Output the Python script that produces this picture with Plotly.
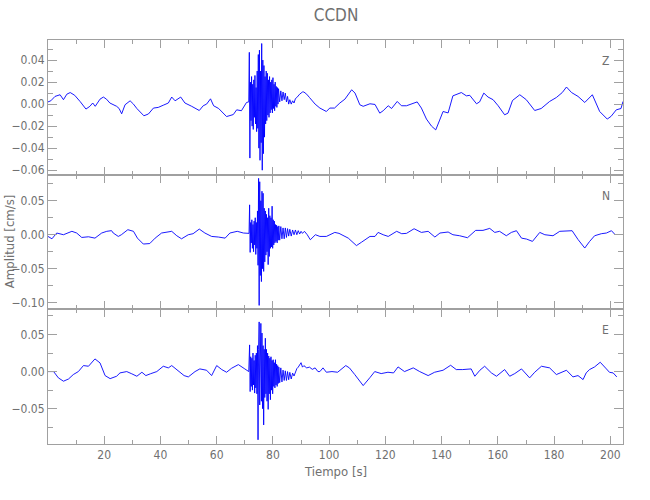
import plotly.graph_objects as go
from plotly.subplots import make_subplots

# ---------------- data (time [s], amplitude [cm/s]) ----------------
z_pre = [(0.0, 0.002), (1.0, 0.003), (2.5, 0.007), (4.3, 0.0085), (5.5, 0.004), (6.7, 0.009),
         (7.9, 0.0105), (9.5, 0.008), (11.4, 0.0024), (13.5, -0.0045), (14.9, -0.002), (15.9, 0.001),
         (16.8, -0.002), (18.5, 0.0045), (19.7, 0.0064), (20.8, 0.0045), (22.0, 0.001), (24.4, -0.002),
         (25.3, -0.004), (26.2, -0.0088), (27.4, -0.0006), (29.2, 0.003), (30.4, 0.0), (31.6, -0.004),
         (34.1, -0.0106), (35.7, -0.009), (37.5, -0.0036), (39.2, -0.003), (41.0, -0.001), (42.8, 0.001),
         (44.0, 0.0064), (45.2, 0.003), (47.2, 0.0064), (48.7, 0.001), (51.1, -0.002), (53.8, -0.0058),
         (55.2, -0.0015), (56.4, 0.0), (57.8, 0.0048), (58.9, -0.0015), (60.7, -0.004), (63.5, -0.0113),
         (65.9, -0.0095), (67.1, -0.0052), (68.8, -0.006), (70.6, 0.0015), (71.4, 0.002)]
z_burst = [(71.6, 0.047), (71.8, -0.049), (72.0, 0.020), (72.2, -0.015), (72.4, 0.025), (72.6, -0.020),
           (72.8, 0.018), (73.0, -0.023), (73.2, 0.022), (73.4, -0.012), (73.6, 0.026), (73.8, -0.018),
           (74.0, 0.015), (74.2, -0.025), (74.4, 0.030), (74.6, -0.022), (74.8, 0.045), (75.0, -0.040),
           (75.2, 0.049), (75.4, -0.051), (75.6, 0.030), (75.8, -0.035), (76.0, 0.055), (76.2, -0.060),
           (76.4, 0.040), (76.6, -0.045), (76.8, 0.035), (77.0, -0.030), (77.2, 0.025), (77.4, -0.018),
           (77.6, 0.030), (77.8, -0.015), (78.0, 0.028), (78.2, -0.010), (78.4, 0.022), (78.6, -0.012),
           (78.8, 0.025), (79.0, -0.008), (79.2, 0.020), (79.4, -0.005), (79.6, 0.022), (79.8, -0.008),
           (80.0, 0.024), (80.2, -0.004), (80.4, 0.018), (80.6, -0.006), (80.8, 0.020), (81.0, -0.002),
           (81.2, 0.016), (81.4, -0.003), (81.6, 0.015), (81.8, 0.0), (82.0, 0.014), (82.4, 0.002),
           (82.8, 0.012), (83.2, 0.003), (83.6, 0.011), (84.0, 0.004), (84.4, 0.010), (84.8, 0.002),
           (85.2, 0.007), (85.6, 0.0), (86.0, 0.004), (86.5, 0.0), (87.0, 0.003), (87.5, 0.001),
           (88.0, 0.005), (88.5, 0.006), (89.0, 0.008), (89.5, 0.009), (90.0, 0.010), (90.5, 0.011),
           (91.0, 0.011), (91.5, 0.010), (92.0, 0.009), (93.0, 0.006), (94.0, 0.003), (95.0, 0.0)]
z_post = [(96.7, -0.0036), (99.0, -0.0067), (100.2, -0.0036), (101.9, -0.0036), (103.8, 0.001),
          (105.6, 0.0045), (108.0, 0.013), (109.2, 0.010), (110.9, -0.0006), (112.1, -0.002),
          (114.5, 0.0003), (116.3, -0.0003), (118.0, -0.0082), (119.2, -0.006), (121.0, -0.0015),
          (122.2, -0.004), (124.2, 0.0024), (125.7, -0.0015), (127.5, -0.0015), (129.3, 0.0),
          (131.3, 0.002), (132.8, -0.0036), (134.6, -0.0136), (136.4, -0.020), (137.9, -0.0234),
          (139.3, -0.0145), (140.5, -0.0067), (142.3, -0.008), (144.0, 0.0075), (147.0, 0.0105),
          (148.8, 0.0075), (150.0, 0.008), (152.4, 0.0003), (153.5, 0.002), (155.0, 0.010),
          (156.5, 0.0064), (158.3, 0.004), (160.1, -0.0015), (162.4, -0.0097), (163.6, -0.0082),
          (165.2, 0.0033), (167.8, 0.0085), (170.1, 0.004), (173.1, -0.0058), (175.4, -0.004),
          (178.4, 0.0024), (180.8, 0.006), (182.9, 0.0105), (184.4, 0.0155), (186.2, 0.0105),
          (188.5, 0.007), (190.9, 0.0015), (193.6, 0.0085), (196.2, -0.0067), (198.9, -0.0136),
          (200.3, -0.011), (202.1, -0.0052), (203.8, -0.004), (204.5, 0.0024)]

n_pre = [(0.0, -0.0025), (1.4, -0.006), (3.1, 0.0025), (5.5, 0.0), (8.5, 0.005), (10.2, 0.0025),
         (12.0, -0.004), (14.4, -0.003), (16.7, -0.005), (19.1, 0.0025), (20.9, 0.005), (22.6, 0.006),
         (23.2, 0.0025), (25.0, -0.0025), (26.1, 0.0), (28.4, 0.0074), (30.4, 0.005), (31.8, -0.005),
         (33.9, -0.0137), (36.2, -0.013), (38.1, -0.005), (40.4, 0.0025), (44.0, 0.005), (45.8, -0.0015),
         (47.5, -0.006), (49.9, 0.0), (51.6, 0.0015), (53.8, 0.0083), (55.8, 0.0025), (58.2, -0.0025),
         (60.6, -0.0034), (63.0, -0.005), (64.7, 0.0025), (67.3, 0.005), (69.5, 0.0025), (71.2, 0.003),
         (71.5, 0.002)]
n_burst = [(71.7, 0.044), (71.9, -0.026), (72.1, 0.018), (72.3, -0.012), (72.5, 0.022), (72.7, -0.020),
           (72.9, 0.015), (73.1, -0.025), (73.3, 0.020), (73.5, -0.015), (73.7, 0.025), (73.9, -0.029),
           (74.1, 0.018), (74.3, -0.020), (74.5, 0.035), (74.7, -0.045), (74.9, 0.083), (75.1, -0.104),
           (75.3, 0.078), (75.5, -0.060), (75.7, 0.050), (75.9, -0.069), (76.1, 0.064), (76.3, -0.050),
           (76.5, 0.061), (76.7, -0.054), (76.9, 0.039), (77.1, -0.040), (77.3, 0.035), (77.5, -0.030),
           (77.7, 0.030), (77.9, -0.025), (78.1, 0.025), (78.3, -0.044), (78.5, 0.039), (78.7, -0.032),
           (78.9, 0.028), (79.1, -0.020), (79.3, 0.025), (79.5, -0.018), (79.7, 0.042), (79.9, -0.020),
           (80.1, 0.022), (80.3, -0.015), (80.5, 0.020), (80.7, -0.012), (80.9, 0.015), (81.1, -0.010),
           (81.3, 0.014), (81.5, -0.012), (81.7, 0.012), (81.9, -0.008), (82.1, 0.013), (82.4, -0.008),
           (82.8, 0.012), (83.2, -0.006), (83.6, 0.010), (84.0, -0.006), (84.4, 0.010), (84.8, -0.004),
           (85.2, 0.009), (85.6, -0.002), (86.0, 0.008), (86.5, -0.002), (87.0, 0.007), (87.5, 0.0),
           (88.0, 0.007), (88.5, 0.0), (89.0, 0.006), (89.5, 0.001), (90.0, 0.005), (90.5, 0.002),
           (91.2, 0.005), (92.2, 0.0), (93.3, -0.0074), (94.2, -0.004), (95.1, 0.0)]
n_post = [(96.7, -0.0025), (99.0, -0.0025), (102.0, 0.0034), (103.5, 0.002), (106.8, -0.005),
          (109.7, -0.016), (111.5, -0.011), (114.5, -0.0025), (116.3, -0.0025), (117.4, 0.0034),
          (119.2, 0.0), (121.0, -0.0025), (124.0, 0.005), (125.8, 0.0015), (127.5, 0.002),
          (130.2, 0.0088), (132.8, 0.0034), (135.2, 0.005), (137.6, -0.0034), (139.4, 0.0025),
          (142.3, 0.004), (144.0, 0.0), (146.4, -0.0015), (149.2, -0.0044), (152.1, 0.0064),
          (154.7, 0.0064), (157.1, 0.0093), (158.9, 0.0034), (160.6, 0.005), (163.0, -0.0015),
          (164.8, 0.0034), (166.6, 0.0059), (168.4, -0.005), (170.2, -0.0064), (172.3, -0.0098),
          (174.9, 0.0034), (176.7, 0.0), (179.6, -0.0015), (182.0, 0.005), (184.4, 0.005),
          (186.4, 0.0059), (188.5, -0.007), (190.9, -0.0196), (192.6, -0.010), (194.4, -0.0015),
          (196.8, 0.0015), (198.6, 0.0025), (200.4, 0.0059), (201.5, 0.001)]

e_pre = [(0.0, 0.0), (2.0, 0.0), (3.7, -0.0085), (5.5, -0.013), (7.3, -0.010), (9.0, -0.004),
         (10.8, 0.0), (12.6, 0.0081), (14.4, 0.0072), (16.7, 0.0171), (18.5, 0.0117), (20.3, -0.0054),
         (22.1, -0.0095), (24.4, -0.0063), (25.6, -0.0018), (28.0, 0.0), (29.8, -0.003), (31.6, -0.0063),
         (33.4, -0.0009), (34.8, -0.0054), (36.4, -0.003), (38.7, 0.0), (41.0, 0.0072), (42.8, 0.005),
         (44.0, 0.0081), (45.8, 0.0027), (48.4, -0.0054), (49.9, -0.0072), (52.3, 0.0), (54.0, 0.0036),
         (56.4, 0.0018), (58.2, -0.0054), (60.0, 0.0081), (61.8, 0.0027), (63.5, -0.0009), (65.3, 0.0045),
         (67.7, 0.0094), (70.0, 0.0036), (71.4, 0.0)]
e_burst = [(71.7, 0.036), (71.9, -0.027), (72.1, 0.020), (72.3, -0.020), (72.5, 0.018), (72.7, -0.025),
           (72.9, 0.025), (73.1, -0.018), (73.3, 0.015), (73.5, -0.029), (73.7, 0.022), (73.9, -0.022),
           (74.1, 0.025), (74.3, -0.030), (74.5, 0.035), (74.7, -0.092), (74.9, 0.030), (75.1, 0.067),
           (75.3, -0.045), (75.5, 0.050), (75.7, 0.065), (75.9, -0.040), (76.1, 0.052), (76.3, -0.050),
           (76.5, 0.035), (76.7, -0.072), (76.9, 0.030), (77.1, -0.035), (77.3, 0.045), (77.5, -0.030),
           (77.7, 0.030), (77.9, -0.040), (78.1, 0.025), (78.3, -0.051), (78.5, 0.021), (78.7, -0.030),
           (78.9, 0.018), (79.1, -0.038), (79.3, 0.020), (79.5, -0.025), (79.7, 0.015), (79.9, -0.030),
           (80.1, 0.016), (80.3, -0.020), (80.5, 0.012), (80.7, -0.022), (80.9, 0.016), (81.1, -0.018),
           (81.3, 0.010), (81.5, -0.020), (81.7, 0.008), (81.9, -0.016), (82.1, 0.006), (82.4, -0.015),
           (82.8, 0.005), (83.2, -0.014), (83.6, 0.002), (84.0, -0.012), (84.4, 0.001), (84.8, -0.012),
           (85.2, 0.0), (85.6, -0.011), (86.0, -0.001), (86.5, -0.010), (87.0, -0.002), (87.5, -0.006),
           (88.0, 0.0), (88.5, 0.004), (89.0, 0.006), (89.5, 0.0094), (90.0, 0.012), (90.5, 0.006),
           (91.0, 0.008), (92.0, 0.005), (93.0, 0.006), (94.0, 0.003), (95.0, 0.005), (96.0, 0.0)]
e_post = [(96.7, 0.0), (97.8, 0.005), (99.0, -0.0009), (101.0, 0.0), (103.0, -0.0009), (105.9, 0.0081),
          (107.2, 0.005), (109.1, -0.004), (112.1, -0.0189), (114.5, -0.0081), (116.2, 0.0),
          (118.5, -0.0027), (120.9, -0.0009), (122.9, -0.0018), (124.5, 0.0063), (126.8, 0.0),
          (129.9, 0.005), (132.2, 0.0), (135.2, -0.0054), (137.5, -0.0009), (140.5, 0.0018),
          (143.2, 0.0085), (145.2, 0.0027), (147.5, 0.0027), (150.5, 0.0036), (151.8, -0.0063),
          (153.6, 0.0018), (155.3, 0.0072), (157.7, -0.0018), (159.5, -0.0063), (162.4, 0.0027),
          (164.2, -0.0063), (166.0, -0.0027), (168.4, 0.0036), (171.3, -0.0085), (173.1, -0.0009),
          (175.5, 0.0072), (178.4, 0.005), (180.8, -0.004), (184.4, 0.0018), (186.7, -0.0072),
          (188.5, -0.0054), (190.3, -0.0108), (191.4, -0.0018), (192.6, 0.0027), (194.4, 0.0063),
          (196.4, 0.0126), (198.6, 0.0036), (199.7, -0.001), (201.0, -0.0018), (202.3, -0.0072)]

components = ["Z", "N", "E"]
x_tickvals = [20, 40, 60, 80, 100, 120, 140, 160, 180, 200]
y_ranges = [[-0.0643, 0.0582], [-0.110, 0.088], [-0.0977, 0.0838]]
y_dticks = [0.02, 0.05, 0.05]
x_range = [0, 204.5]

traces = {
    "Z": z_pre + z_burst + z_post,
    "N": n_pre + n_burst + n_post,
    "E": e_pre + e_burst + e_post,
}

# ---------------- figure ----------------
AXIS = "#a0a0a0"
TEXT = "#707070"
FONT = "DejaVu Sans Condensed, Liberation Sans Narrow, sans-serif"

fig = make_subplots(rows=3, cols=1, shared_xaxes=True, vertical_spacing=0)
domains = [[0.666, 1.0], [0.333, 0.666], [0.0, 0.333]]

for i, comp in enumerate(components):
    pts = traces[comp]
    fig.add_trace(go.Scatter(x=[p[0] for p in pts], y=[p[1] for p in pts], mode="lines",
                             line=dict(color="rgb(0,0,255)", width=0.9), showlegend=False,
                             hoverinfo="skip"), row=i + 1, col=1)
    fig.update_yaxes(row=i + 1, col=1, range=y_ranges[i], domain=domains[i], tick0=0,
                     dtick=y_dticks[i], tickformat=".2f", ticks="inside", ticklen=9,
                     tickcolor=AXIS, showline=True, linecolor=AXIS, linewidth=1, mirror="ticks",
                     showgrid=False, zeroline=False, automargin=False,
                     tickfont=dict(family=FONT, size=12, color=TEXT),
                     minor=dict(dtick=y_dticks[i] / 2, tick0=0, ticks="inside", ticklen=5,
                                tickcolor=AXIS))
    fig.update_xaxes(row=i + 1, col=1, range=x_range, tickmode="array", tickvals=x_tickvals,
                     ticks="inside", ticklen=8, tickcolor=AXIS, showline=True, linecolor=AXIS,
                     linewidth=1, mirror="ticks", showgrid=False, zeroline=False,
                     showticklabels=(i == 2), automargin=False,
                     tickfont=dict(family=FONT, size=12, color=TEXT),
                     minor=dict(dtick=10, tick0=0, ticks="inside", ticklen=4, tickcolor=AXIS))
    fig.add_annotation(text=comp, xref="x domain" if i == 0 else f"x{i+1} domain",
                       yref="y domain" if i == 0 else f"y{i+1} domain",
                       x=0.97, y=0.845, showarrow=False, xanchor="center", yanchor="middle",
                       font=dict(family=FONT, size=12, color=TEXT))

fig.add_annotation(text="Tiempo [s]", xref="paper", yref="paper", x=0.5, y=-0.0685,
                   showarrow=False, xanchor="center", yanchor="middle",
                   font=dict(family=FONT, size=13, color=TEXT))
fig.add_annotation(text="Amplitud [cm/s]", xref="paper", yref="paper", x=-0.0676, y=0.5,
                   textangle=-90, showarrow=False, xanchor="center", yanchor="middle",
                   font=dict(family=FONT, size=13, color=TEXT))

fig.update_layout(
    width=650, height=500,
    margin=dict(l=48, r=27, t=40, b=56, autoexpand=False),
    paper_bgcolor="white", plot_bgcolor="white",
    title=dict(text="CCDN", x=0.517, xanchor="center", y=0.97, yanchor="middle",
               font=dict(family=FONT, size=17, color=TEXT)),
)

fig.write_html("out.html", config={"displayModeBar": False},
               post_script="document.body.style.margin='0px';")
